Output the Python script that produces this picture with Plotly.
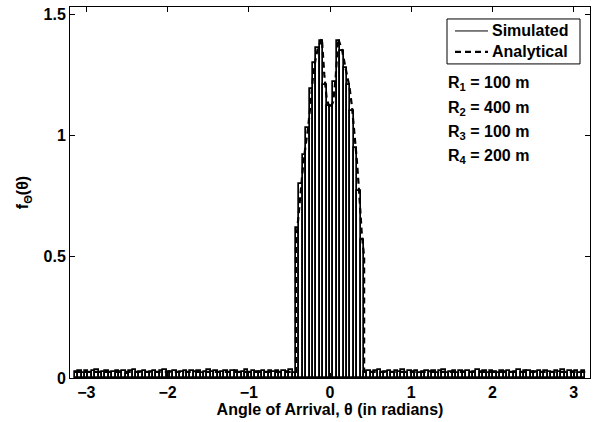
import numpy as np
import plotly.graph_objects as go

# ---------------- data ----------------
bin_count = 150
theta_min, theta_max = -np.pi, np.pi

# simulated histogram heights (150 bins over [-pi, pi])
sim_heights = [
    0.024, 0.030, 0.022, 0.028, 0.019, 0.027, 0.031, 0.021, 0.026, 0.029,
    0.020, 0.025, 0.030, 0.023, 0.027, 0.018, 0.028, 0.032, 0.022, 0.026,
    0.029, 0.021, 0.024, 0.030, 0.019, 0.027, 0.031, 0.023, 0.025, 0.028,
    0.020, 0.026, 0.030, 0.022, 0.027, 0.024, 0.029, 0.019, 0.026, 0.031,
    0.023, 0.028, 0.021, 0.025, 0.030, 0.020, 0.027, 0.029, 0.022, 0.024,
    0.031, 0.019, 0.028, 0.026, 0.023, 0.030, 0.021, 0.027, 0.025, 0.029,
    0.020, 0.028, 0.024, 0.031, 0.022, 0.62, 0.80, 0.92, 1.03, 1.19,
    1.30, 1.36, 1.39, 1.21, 1.12, 1.12, 1.22, 1.39, 1.35, 1.28,
    1.21, 1.10, 0.95, 0.77, 0.57, 0.023, 0.029, 0.020, 0.027, 0.031,
    0.022, 0.026, 0.030, 0.019, 0.028, 0.024, 0.031, 0.021, 0.027, 0.025,
    0.029, 0.020, 0.026, 0.030, 0.023, 0.028, 0.019, 0.027, 0.031, 0.022,
    0.025, 0.029, 0.021, 0.028, 0.024, 0.030, 0.020, 0.026, 0.031, 0.023,
    0.027, 0.019, 0.029, 0.025, 0.022, 0.030, 0.024, 0.028, 0.021, 0.026,
    0.031, 0.020, 0.027, 0.029, 0.023, 0.025, 0.030, 0.019, 0.028, 0.024,
    0.022, 0.029, 0.026, 0.031, 0.020, 0.027, 0.024, 0.030, 0.021, 0.028,
]

# analytical pdf sample points
ana_theta = [-3.1416, -0.42, -0.42, -0.40, -0.38, -0.35, -0.33, -0.30, -0.27,
             -0.24, -0.21, -0.18, -0.15, -0.10, -0.07, -0.04, 0.00, 0.04,
             0.07, 0.10, 0.15, 0.19, 0.24, 0.27, 0.30, 0.33, 0.36, 0.39,
             0.42, 0.42, 3.1416]
ana_pdf = [0.025, 0.025, 0.55, 0.62, 0.72, 0.82, 0.88, 0.96, 1.03,
           1.13, 1.24, 1.31, 1.36, 1.40, 1.25, 1.15, 1.11, 1.14,
           1.24, 1.40, 1.35, 1.28, 1.20, 1.12, 1.02, 0.90, 0.76, 0.60,
           0.50, 0.025, 0.025]

x_ticks = [-3, -2, -1, 0, 1, 2, 3]
y_ticks = [0, 0.5, 1, 1.5]
param_labels = ["R<sub>1</sub> = 100 m", "R<sub>2</sub> = 400 m",
                "R<sub>3</sub> = 100 m", "R<sub>4</sub> = 200 m"]
legend_names = ["Simulated", "Analytical"]

# ---------------- figure ----------------
edges = np.linspace(theta_min, theta_max, bin_count + 1)
centers = 0.5 * (edges[:-1] + edges[1:])
width = edges[1] - edges[0]

FONT = "Liberation Sans, Arial, Helvetica, sans-serif"
FS = 16
SIM_LINE = dict(color="black", width=1)
ANA_LINE = dict(color="black", width=2.2, dash="6px,4px")

fig = go.Figure()
fig.add_trace(go.Bar(
    x=centers, y=sim_heights, width=width, name=legend_names[0],
    marker=dict(color="white", line=dict(color="black", width=1.7)),
    showlegend=False, hoverinfo="skip",
))
fig.add_trace(go.Scatter(
    x=ana_theta, y=ana_pdf, mode="lines", name=legend_names[1],
    line=ANA_LINE, showlegend=False,
))

L, R, T, B = 70, 5, 7, 43.5
W, H = 595, 422
pw = W - L - R
ph = H - T - B


def px(xp):
    return (xp - L) / pw


def py(yp):
    return (H - B - yp) / ph


# parameter text
for i, txt in enumerate(param_labels):
    fig.add_annotation(
        x=px(446), y=py(84 + i * 24.3), xref="paper", yref="paper",
        text=txt, showarrow=False, xanchor="left", yanchor="middle",
        font=dict(family=FONT, size=FS, color="black", weight="bold"),
    )

# legend box drawn MATLAB-style (line keys)
fig.add_shape(type="rect", xref="paper", yref="paper",
              x0=px(447), x1=px(580), y0=py(19), y1=py(64),
              line=dict(color="black", width=1), fillcolor="white", layer="above")
for i, (name, style) in enumerate(zip(legend_names, [SIM_LINE, ANA_LINE])):
    yy = 31 + i * 21
    fig.add_shape(type="line", xref="paper", yref="paper",
                  x0=px(455), x1=px(488), y0=py(yy), y1=py(yy),
                  line=style, layer="above")
    fig.add_annotation(x=px(490), y=py(yy), xref="paper", yref="paper",
                       text=name, showarrow=False, xanchor="left", yanchor="middle",
                       font=dict(family=FONT, size=FS, color="black", weight="bold"))

axis_common = dict(
    showline=True, linecolor="black", linewidth=1, mirror="ticks",
    ticks="inside", ticklen=5, tickwidth=1, tickcolor="black",
    showgrid=False, zeroline=False,
    tickfont=dict(family=FONT, size=FS, color="black", weight="bold"),
)

fig.update_layout(
    width=W, height=H,
    margin=dict(l=L, r=R, t=T, b=B, pad=0),
    paper_bgcolor="white", plot_bgcolor="white",
    bargap=0, showlegend=False,
    font=dict(family=FONT, size=FS, color="black", weight="bold"),
    xaxis=dict(range=[-3.2, 3.2], tickvals=x_ticks, **axis_common,
               title=dict(text="Angle of Arrival, θ (in radians)", standoff=2,
                          font=dict(family=FONT, size=FS, weight="bold"))),
    yaxis=dict(range=[0, 1.53], tickvals=y_ticks, **axis_common,
               title=dict(text="f<sub>Θ</sub>(θ)", standoff=10,
                          font=dict(family=FONT, size=FS, weight="bold"))),
)

fig.write_html("out.html")
